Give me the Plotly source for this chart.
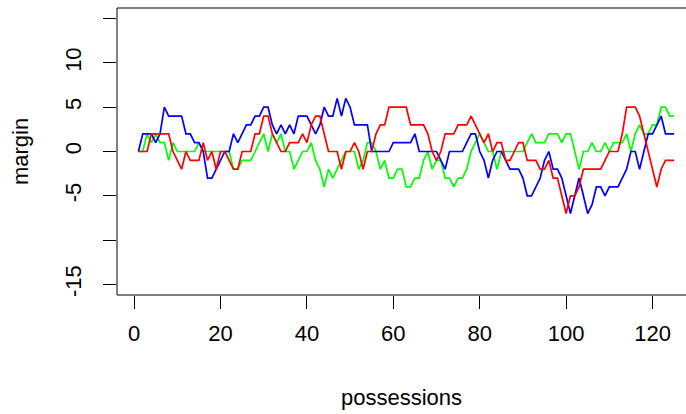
import plotly.graph_objects as go

possessions = list(range(1, 126))

blue_margin = [
    0, 2, 2, 2, 1, 2, 5, 4, 4, 4,
    4, 2, 2, 1, 1, 0, -3, -3, -2, -1,
    0, 0, 2, 1, 2, 3, 3, 4, 4, 5,
    5, 3, 2, 3, 2, 3, 2, 4, 4, 4,
    3, 2, 3, 5, 4, 4, 6, 4, 6, 5,
    3, 3, 3, 3, 0, 0, 0, 0, 0, 1,
    1, 1, 1, 1, 2, 0, 0, 0, 0, 0,
    -1, -2, 0, 0, 0, 0, 1, 2, 2, 0,
    -1, -3, -1, 0, 0, -1, -2, -2, -2, -3,
    -5, -5, -4, -3, -1, 0, -2, -2, -3, -5,
    -7, -5, -3, -5, -7, -6, -4, -4, -5, -4,
    -4, -4, -3, -2, 0, 0, -2, 0, 2, 2,
    3, 4, 2, 2, 2,
]

red_margin = [
    0, 0, 0, 2, 2, 2, 2, 2, 0, -1,
    -2, 0, -1, -1, -1, 1, -1, 0, -2, 0,
    0, -1, -2, -2, 0, 0, 0, 2, 2, 4,
    4, 2, 1, 0, 0, 1, 1, 1, 2, 1,
    3, 4, 4, 2, 0, 0, 0, -2, 0, 0,
    1, 0, -2, 0, 0, 2, 3, 3, 5, 5,
    5, 5, 5, 3, 3, 3, 3, 2, 0, -1,
    0, 2, 2, 2, 3, 3, 3, 4, 3, 2,
    1, 2, 0, 1, 1, -1, -1, 0, 1, 1,
    -1, -1, -1, -2, -2, -1, -3, -3, -5, -7,
    -5, -5, -4, -2, -2, -2, -2, -2, -1, 0,
    0, 0, 2, 5, 5, 5, 4, 2, 0, -2,
    -4, -2, -1, -1, -1,
]

green_margin = [
    0, 0, 2, 1, 2, 1, 1, -1, 1, 0,
    0, 0, 0, 0, 1, 0, 0, 0, 0, 0,
    0, 0, -2, -2, -1, -1, -1, 0, 1, 2,
    0, 2, 1, 2, 0, 0, -2, -1, 0, 0,
    1, -1, -2, -4, -2, -3, -2, -1, 0, 0,
    0, -2, -1, 1, 1, 0, -2, -1, -3, -3,
    -2, -2, -4, -4, -3, -3, -1, 0, -2, -1,
    -1, -3, -3, -4, -3, -3, -2, 0, 1, 2,
    1, 0, 0, -2, 0, 0, 0, 0, 0, 0,
    1, 2, 1, 1, 1, 2, 2, 2, 1, 2,
    2, 0, -2, 0, 0, 1, 0, 0, 1, 0,
    1, 1, 1, 2, 0, 2, 3, 2, 2, 3,
    3, 5, 5, 4, 4,
]

x_ticks = [0, 20, 40, 60, 80, 100, 120]
y_ticks = [-15, -10, -5, 0, 5, 10, 15]
y_tick_labels = ["-15", "", "-5", "0", "5", "10", ""]

FONT = "Liberation Sans, Arial, sans-serif"
FS = 22

fig = go.Figure()
for ys, col in [(green_margin, "#00FF00"), (blue_margin, "#0000FF"), (red_margin, "#FF0000")]:
    fig.add_trace(go.Scatter(x=possessions, y=ys, mode="lines",
                             line=dict(color=col, width=1.7),
                             showlegend=False, hoverinfo="skip"))

fig.update_layout(
    width=686, height=414,
    margin=dict(l=117, r=0, t=8, b=119, autoexpand=False),
    paper_bgcolor="white", plot_bgcolor="white",
    font=dict(family=FONT, size=FS, color="black"),
    xaxis=dict(
        range=[-3.96, 127.75], tickvals=x_ticks, ticktext=[str(v) for v in x_ticks],
        ticks="outside", ticklen=13, tickwidth=1, tickcolor="black",
        showgrid=False, zeroline=False, showline=False, automargin=False,
        ticklabelstandoff=6,
        title=dict(text="possessions", standoff=44, font=dict(size=FS)),
    ),
    yaxis=dict(
        range=[-16.2, 16.2], tickvals=y_ticks, ticktext=y_tick_labels,
        ticks="outside", ticklen=13, tickwidth=1, tickcolor="black",
        tickangle=-90,
        showgrid=False, zeroline=False, showline=False, automargin=False,
        ticklabelstandoff=13,
        title=dict(text="margin", standoff=26, font=dict(size=FS)),
    ),
    shapes=[
        dict(type="line", xref="paper", yref="paper", x0=0, x1=0, y0=0, y1=1,
             line=dict(color="black", width=1)),
        dict(type="line", xref="paper", yref="paper", x0=0, x1=1, y0=1, y1=1,
             line=dict(color="black", width=1)),
        dict(type="line", xref="paper", yref="paper", x0=0, x1=1, y0=0, y1=0,
             line=dict(color="black", width=1)),
    ],
)

fig.write_html("out.html")
